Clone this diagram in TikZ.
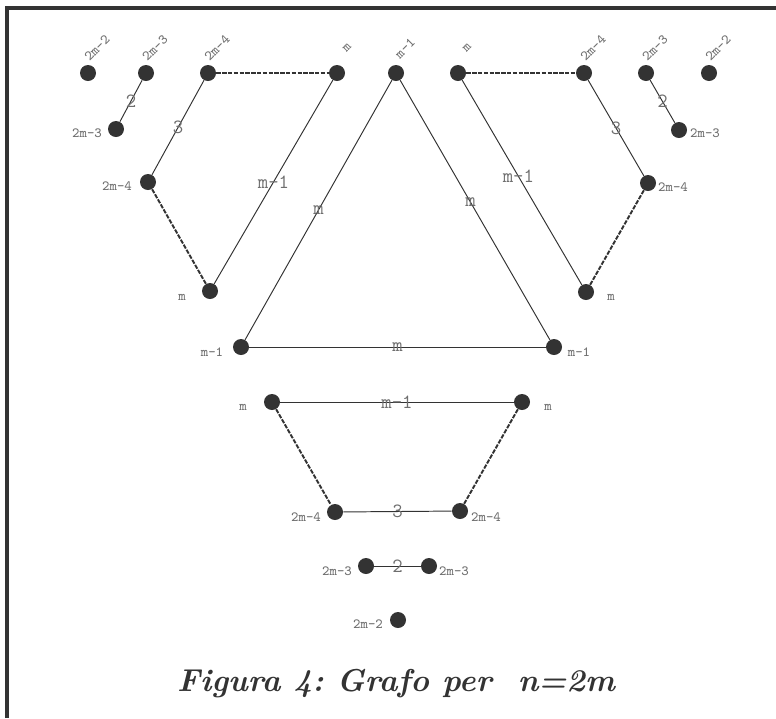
\documentclass[tikz,border=0pt]{standalone}
\usepackage{tikz}
\usetikzlibrary{calc}
\definecolor{dot}{HTML}{333333}
\definecolor{lab}{HTML}{6E6E6E}
\frenchspacing

\begin{document}
\begin{tikzpicture}[x=.02cm,y=-.02cm,vx/.style={circle,fill=dot,inner sep=0pt,minimum size=.32cm},
ed/.style={draw=dot,line width=.55pt},dsh/.style={draw=dot,line width=1.1pt,dash pattern=on 2.5pt off .8pt},
wt/.style={text=lab,inner sep=0pt,font=\ttfamily\fontsize{11.5}{12}\selectfont},
lb/.style={text=lab,inner sep=0pt,font=\ttfamily\fontsize{8}{9}\selectfont},tlb/.style={lb,rotate=45}]
\useasboundingbox(0,0)rectangle(776,718);
\draw[dot,line width=1.8pt](7,718)--(7,8)--(776,8);
% top row
\node[vx](tl2)at(88,73){};\node[vx](tl3)at(146,73){};\node[vx](tl4)at(208,73){};\node[vx](tlm)at(337,73){};
\node[vx](tc)at(396,73){};\node[vx](trm)at(458,73){};\node[vx](tr4)at(584,73){};\node[vx](tr3)at(646,73){};\node[vx](tr2)at(709,73){};
\node[tlb](ntl2)at(97,48){2m-2};\node[tlb](ntl3)at(155,48){2m-3};\node[tlb](ntl4)at(217,48){2m-4};\node[tlb](ntlm)at(347,48){m};
\node[tlb](ntc)at(405,48){m-1};\node[tlb](ntrm)at(467,48){m};\node[tlb](ntr4)at(593,48){2m-4};\node[tlb](ntr3)at(655,48){2m-3};\node[tlb](ntr2)at(718,48){2m-2};
% left and right sides
\node[vx](ll3)at(116,129){};\node[lb](nll3)at(87,133){2m-3};\node[vx](ll4)at(148,182){};\node[lb](nll4)at(117,186){2m-4};
\node[vx](llm)at(210,291){};\node[lb](nllm)at(182,297){m};\node[vx](lm1)at(241,347){};\node[lb](nlm1)at(212,352){m-1};
\node[vx](rr3)at(679,130){};\node[lb](nrr3)at(705,133){2m-3};\node[vx](rr4)at(648,183){};\node[lb](nrr4)at(673,187){2m-4};
\node[vx](rrm)at(586,292){};\node[lb](nrrm)at(611,297){m};\node[vx](rm1)at(554,347){};\node[lb](nrm1)at(579,352){m-1};
\draw[ed](tl3)--node[wt]{2}(ll3);\draw[ed](tl4)--node[wt]{3}(ll4);\draw[dsh](tl4)--(tlm);\draw[ed](tlm)--node[wt]{m-1}(llm);\draw[dsh](ll4)--(llm);
\draw[ed](tc)--node[wt]{m}(lm1);\draw[ed](tc)--node[wt,pos=.47]{m}(rm1);\draw[ed](lm1)--node[wt]{m}(rm1);
\draw[dsh](trm)--(tr4);\draw[ed](trm)--node[wt,pos=.47]{m-1}(rrm);\draw[ed](tr4)--node[wt]{3}(rr4);\draw[dsh](rr4)--(rrm);\draw[ed](tr3)--node[wt]{2}(rr3);
% bottom part
\node[vx](bm1)at(272,402){};\node[lb](nbm1)at(243,407){m};\node[vx](bm2)at(522,402){};\node[lb](nbm2)at(548,407){m};
\node[vx](b41)at(335,512){};\node[lb](nb41)at(306,517){2m-4};\node[vx](b42)at(460,511){};\node[lb](nb42)at(486,517){2m-4};
\node[vx](b31)at(366,566){};\node[lb](nb31)at(337,571){2m-3};\node[vx](b32)at(429,566){};\node[lb](nb32)at(454,571){2m-3};
\node[vx](b2)at(398,620){};\node[lb](nb2)at(368,624){2m-2};
\draw[ed](bm1)--node[wt]{m-1}(bm2);\draw[dsh](bm1)--(b41);\draw[dsh](bm2)--(b42);\draw[ed](b41)--node[wt]{3}(b42);\draw[ed](b31)--node[wt]{2}(b32);
\node[text=dot,font=\bfseries\itshape\fontsize{18}{22}\selectfont](cap)at(396,684){Figura 4: Grafo per\ \ n=2m};
\end{tikzpicture}
\end{document}
